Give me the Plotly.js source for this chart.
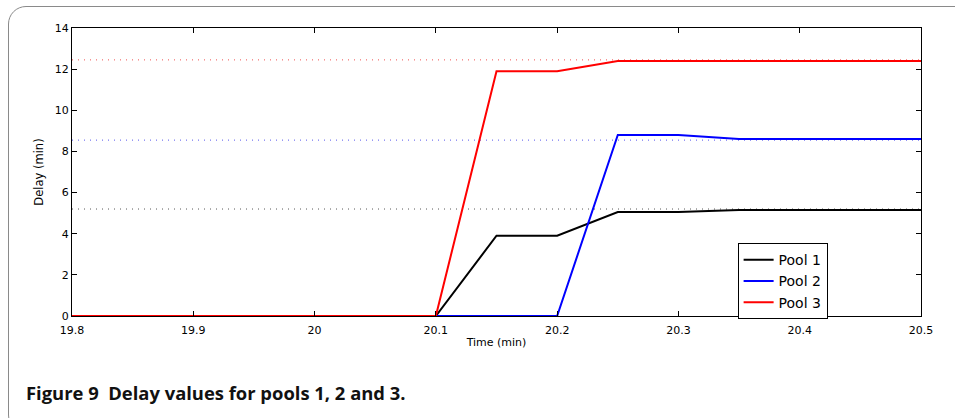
<!DOCTYPE html>
<html><head><meta charset="utf-8">
<script src="https://cdn.plot.ly/plotly-3.0.1.min.js"></script>
<style>
html,body{margin:0;padding:0;background:#fff;width:955px;height:418px;overflow:hidden;}
#frame{position:absolute;left:8px;top:6px;width:970px;height:425px;border:1.5px solid #8a8a8a;border-radius:18px;}
#chart{position:absolute;left:0;top:0;width:955px;height:418px;}
</style></head>
<body>
<div id="frame"></div>
<div id="chart"></div>
<script>
const time  = [19.8,19.85,19.9,19.95,20,20.05,20.1,20.15,20.2,20.25,20.3,20.35,20.4,20.45,20.5];
const pool1 = [0,0,0,0,0,0,0,3.9,3.9,5.05,5.05,5.15,5.15,5.15,5.15];
const pool2 = [0,0,0,0,0,0,0,0,0,8.8,8.8,8.6,8.6,8.6,8.6];
const pool3 = [0,0,0,0,0,0,0,11.9,11.9,12.4,12.4,12.4,12.4,12.4,12.4];
const targetX = [19.8, 20.5];
const target1 = 5.2, target2 = 8.55, target3 = 12.45;
const names = ['Pool 1','Pool 2','Pool 3'];
const xTicks = [19.8,19.9,20,20.1,20.2,20.3,20.4,20.5];
const yTicks = [0,2,4,6,8,10,12,14];

const dotted = (y, c) => ({x: targetX, y: [y, y], mode:'lines', showlegend:false, hoverinfo:'skip',
  line:{color:c, width:1, dash:'1px,5px'}});
const data = [
  dotted(target1, '#555555'), dotted(target2, '#5555ee'), dotted(target3, '#f05050'),
  {x: time, y: pool1, name: names[0], mode:'lines', line:{color:'#000000', width:2}},
  {x: time, y: pool2, name: names[1], mode:'lines', line:{color:'#0000ff', width:2}},
  {x: time, y: pool3, name: names[2], mode:'lines', line:{color:'#ff0000', width:2}}
];
const fam = '"DejaVu Sans", sans-serif';
const font = {family:fam, size:11, color:'#000'};
const layout = {
  width:955, height:418,
  margin:{l:72, r:34, t:28, b:102},
  paper_bgcolor:'rgba(0,0,0,0)', plot_bgcolor:'#fff',
  font: font,
  showlegend:true,
  legend:{x:0.784, y:0.253, xanchor:'left', yanchor:'top', bgcolor:'#fff', bordercolor:'#000', borderwidth:1,
    font:{family:fam, size:14, color:'#000'}, tracegroupgap:0},
  xaxis:{range:[19.8,20.5], tickvals:xTicks, ticktext:xTicks.map(String), showgrid:false, zeroline:false,
    showline:true, linecolor:'#000', linewidth:1, mirror:'ticks', ticks:'inside', ticklen:5, tickcolor:'#000',
    ticklabelstandoff:4, tickfont:font,
    title:{text:'Time (min)', standoff:2, font:font}},
  yaxis:{range:[0,14], tickvals:yTicks, showgrid:false, zeroline:false,
    showline:true, linecolor:'#000', linewidth:1, mirror:'ticks', ticks:'inside', ticklen:5, tickcolor:'#000',
    tickfont:font,
    title:{text:'Delay (min)', standoff:8, font:{family:fam, size:11.5, color:'#000'}}},
  annotations:[{xref:'paper', yref:'paper', x:-0.0565, y:-0.267, xanchor:'left', yanchor:'middle', showarrow:false,
    text:'<b>Figure 9&nbsp;&nbsp;Delay values for pools 1, 2 and 3.</b>',
    font:{family:'"Open Sans", "Noto Sans", sans-serif', size:18.4, color:'#111'}}]
};
Plotly.newPlot('chart', data, layout, {displayModeBar:false, staticPlot:true});
</script>
</body></html>
